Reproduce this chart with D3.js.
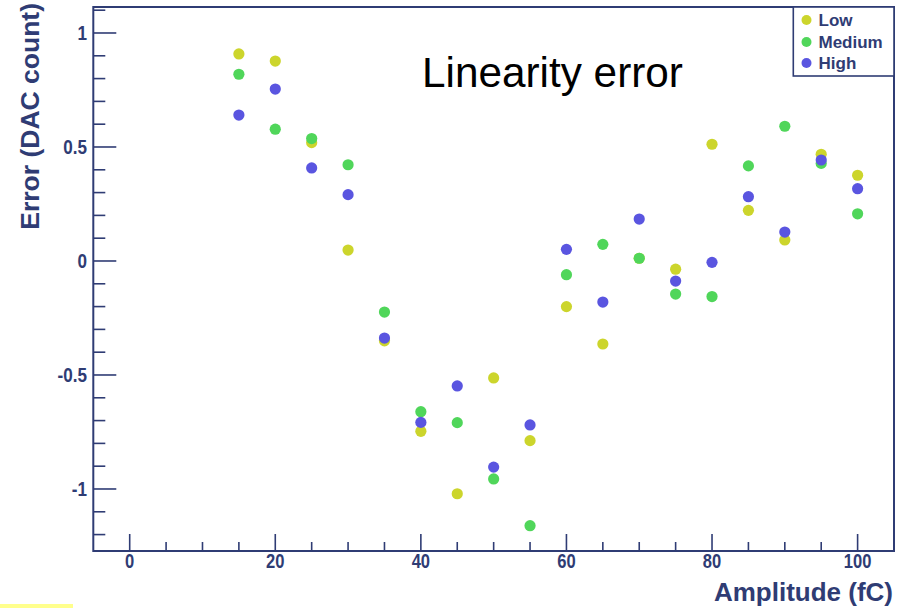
<!DOCTYPE html>
<html>
<head>
<meta charset="utf-8">
<script src="https://cdn.jsdelivr.net/npm/d3@7"></script>
<style>
html,body{margin:0;padding:0;background:#fff;}
svg{display:block;}
</style>
</head>
<body>
<svg id="chart" width="903" height="608"></svg>
<script>
// ---- data ----
const amplitudes = [15,20,25,30,35,40,45,50,55,60,65,70,75,80,85,90,95,100];
const lowValues    = [0.908,0.877,0.519,0.048,-0.350,-0.747,-1.021,-0.513,-0.788,-0.200,-0.364,0.012,-0.036,0.512,0.222,0.092,0.468,0.376];
const mediumValues = [0.819,0.578,0.537,0.422,-0.224,-0.661,-0.709,-0.956,-1.161,-0.060,0.073,0.012,-0.145,-0.156,0.417,0.591,0.428,0.207];
const highValues   = [0.640,0.754,0.408,0.291,-0.338,-0.708,-0.548,-0.904,-0.719,0.051,-0.180,0.184,-0.088,-0.006,0.282,0.127,0.443,0.317];
const seriesNames = ["Low","Medium","High"];
const xTickValues = [0,20,40,60,80,100];
const yTickValues = [-1,-0.5,0,0.5,1];
const yTickLabels = ["-1","-0.5","0","0.5","1"];
const titleText = "Linearity error";
const xTitle = "Amplitude (fC)";
const yTitle = "Error (DAC count)";

// ---- layout / style ----
const colors = {Low:"#ccd52c", Medium:"#50d65a", High:"#5a55e0"};
const navy = "#2f3c74";
const frame = {left:93.3, right:894, top:7, bottom:551};

const svg = d3.select("#chart");
const x = d3.scaleLinear().domain([-5,105]).range([frame.left, frame.right]);
const y = d3.scaleLinear().domain([-1.272,1.114]).range([frame.bottom, frame.top]);

// frame
svg.append("rect")
  .attr("x", frame.left).attr("y", frame.top)
  .attr("width", frame.right-frame.left).attr("height", frame.bottom-frame.top)
  .attr("fill","none").attr("stroke",navy).attr("stroke-width",2);

// x ticks
const xMinor = d3.range(0,101,5);
svg.append("g").selectAll("line").data(xMinor).join("line")
  .attr("x1",d=>x(d)).attr("x2",d=>x(d))
  .attr("y1",frame.bottom).attr("y2",d=> d%20===0 ? frame.bottom-17 : frame.bottom-9)
  .attr("stroke",navy).attr("stroke-width",1.6);
svg.append("g").selectAll("text").data(xTickValues).join("text")
  .attr("transform",d=>`translate(${x(d)},568) scale(0.92,1.08)`)
  .attr("text-anchor","middle")
  .attr("font-family","Liberation Sans, Arial, sans-serif")
  .attr("font-weight","bold").attr("font-size",18).attr("fill",navy)
  .text(d=>d);

// y ticks
const yMinor = d3.range(-12,12).map(d=>d/10);
svg.append("g").selectAll("line").data(yMinor).join("line")
  .attr("x1",frame.left).attr("x2",d=> (Math.abs(Math.round(d*10))%5===0) ? frame.left+23 : frame.left+12)
  .attr("y1",d=>y(d)).attr("y2",d=>y(d))
  .attr("stroke",navy).attr("stroke-width",1.6);
svg.append("g").selectAll("text").data(yTickValues).join("text")
  .attr("transform",d=>`translate(87,${y(d)+7}) scale(0.95,1.08)`)
  .attr("text-anchor","end")
  .attr("font-family","Liberation Sans, Arial, sans-serif")
  .attr("font-weight","bold").attr("font-size",18).attr("fill",navy)
  .text((d,i)=>yTickLabels[i]);

// axis titles
svg.append("text")
  .attr("x",893).attr("y",601)
  .attr("text-anchor","end")
  .attr("font-family","Liberation Sans, Arial, sans-serif")
  .attr("font-weight","bold").attr("font-size",26).attr("fill",navy)
  .text(xTitle);
svg.append("text")
  .attr("transform","translate(39,3) rotate(-90)")
  .attr("text-anchor","end")
  .attr("font-family","Liberation Sans, Arial, sans-serif")
  .attr("font-weight","bold").attr("font-size",26.5).attr("fill",navy)
  .text(yTitle);

// points
const series = [
  {name:"Low", values: lowValues},
  {name:"Medium", values: mediumValues},
  {name:"High", values: highValues}
];
series.forEach(s=>{
  svg.append("g").selectAll("circle").data(amplitudes.map((a,i)=>({a, v:s.values[i]}))).join("circle")
    .attr("cx",d=>x(d.a)).attr("cy",d=>y(d.v)).attr("r",5.6)
    .attr("fill",colors[s.name]);
});

// title
svg.append("text")
  .attr("x",422).attr("y",87)
  .attr("font-family","Liberation Sans, Arial, sans-serif")
  .attr("font-size",42.3).attr("fill","#000")
  .text(titleText);

// legend
const lg = svg.append("g");
lg.append("rect").attr("x",793.3).attr("y",7).attr("width",894-793.3).attr("height",69)
  .attr("fill","#fff").attr("stroke",navy).attr("stroke-width",1.6);
const rowsY = [20,42,63];
seriesNames.forEach((n,i)=>{
  lg.append("circle").attr("cx",806.5).attr("cy",rowsY[i]).attr("r",5).attr("fill",colors[n]);
  lg.append("text").attr("x",818.5).attr("y",rowsY[i]+6)
    .attr("font-family","Liberation Sans, Arial, sans-serif")
    .attr("font-weight","bold").attr("font-size",17).attr("fill",navy)
    .text(n);
});

// highlight strip bottom-left
svg.append("rect").attr("x",0).attr("y",604).attr("width",73).attr("height",4).attr("fill","#ffff8c");
</script>
</body>
</html>
